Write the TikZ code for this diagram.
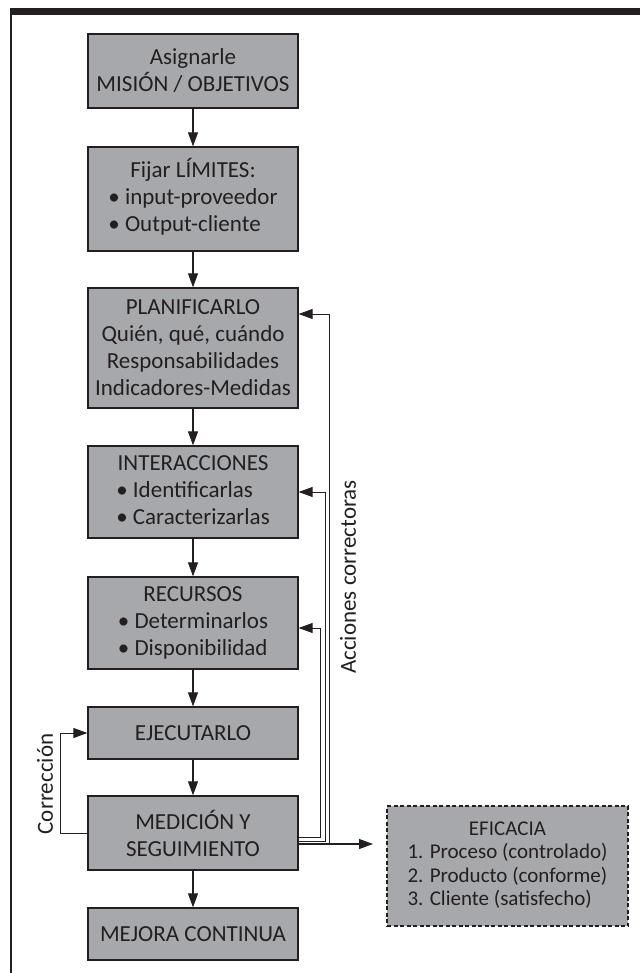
\documentclass[tikz,border=0pt]{standalone}
\usepackage{fontspec}
\setmainfont{Carlito}
\usetikzlibrary{arrows.meta}
\definecolor{boxgray}{RGB}{167,168,171}
\definecolor{inkdark}{RGB}{35,31,32}
\newcommand{\listbox}[2]{\begin{tabular}{@{}l@{}}\multicolumn{1}{@{}c@{}}{#1}\\#2\end{tabular}}
\begin{document}
\begin{tikzpicture}[x=1pt,y=-1pt,
    every node/.style={font=\fontsize{23}{27}\selectfont, text=inkdark},
    procbox/.style={draw=inkdark, line width=1.3pt, fill=boxgray, minimum width=210pt, inner sep=0pt},
    flow/.style={draw=inkdark, line width=1.1pt, -{Triangle[length=14pt,width=10pt]}},
    back/.style={draw=inkdark, line width=0.9pt, -{Triangle[length=14pt,width=10pt]}}]
    \useasboundingbox (0,0) rectangle (640,973);
    % FRAME
    \fill[inkdark] (10,8) rectangle (640,15);
    \draw[inkdark, line width=1.3pt] (11,15) -- (11,973);
    % MAIN CHAIN
    \node[procbox, minimum height=74pt, align=center] (mision) at (193,71) {Asignarle\\MISIÓN / OBJETIVOS};
    \node[procbox, minimum height=104pt] (limites) at (193,199) {\listbox{Fijar LÍMITES:}{• input-proveedor\\• Output-cliente}};
    \node[procbox, minimum height=120pt, align=center] (planif) at (193,348) {PLANIFICARLO\\Quién, qué, cuándo\\Responsabilidades\\Indicadores-Medidas};
    \node[procbox, minimum height=92pt] (interac) at (193,492) {\listbox{INTERACCIONES}{• Identificarlas\\• Caracterizarlas}};
    \node[procbox, minimum height=92pt] (recursos) at (193,623) {\listbox{RECURSOS}{• Determinarlos\\• Disponibilidad}};
    \node[procbox, minimum height=52pt] (ejecutar) at (193,733) {EJECUTARLO};
    \node[procbox, minimum height=74pt, align=center] (medicion) at (193,833) {MEDICIÓN Y\\SEGUIMIENTO};
    \node[procbox, minimum height=52pt] (mejora) at (193,934) {MEJORA CONTINUA};
    \draw[flow] (mision) -- (limites);
    \draw[flow] (limites) -- (planif);
    \draw[flow] (planif) -- (interac);
    \draw[flow] (interac) -- (recursos);
    \draw[flow] (recursos) -- (ejecutar);
    \draw[flow] (ejecutar) -- (medicion);
    \draw[flow] (medicion) -- (mejora);
    % EFFICACY
    \node[procbox, dash pattern=on 4pt off 2.5pt, line width=1.1pt, minimum width=241pt, minimum height=120pt,
      font=\fontsize{21}{23.5}\selectfont] (eficacia) at (507.5,866)
      {\listbox{EFICACIA}{1. Proceso (controlado)\\2. Producto (conforme)\\3. Cliente (satisfecho)}};
    \coordinate (effend) at (373,844);
    \draw[flow] ([yshift=-11pt]medicion.east) -- (effend);
    % CORRECTION LOOP
    \draw[back] (medicion.west) -- ++(-27,0) |- (ejecutar.west);
    \node[rotate=90] (correc) at (45,784) {Corrección};
    % CORRECTIVE ACTIONS
    \draw[back] ([yshift=-11pt]medicion.east) -- ++(31,0) |- ([yshift=34pt]planif.east);
    \draw[back] ([yshift=-8pt]medicion.east) -- ++(27,0) |- (interac.east);
    \draw[back] ([yshift=-4pt]medicion.east) -- ++(22,0) |- ([yshift=-5pt]recursos.east);
    \node[rotate=90] (accion) at (348,577) {Acciones correctoras};
  \end{tikzpicture}
\end{document}
